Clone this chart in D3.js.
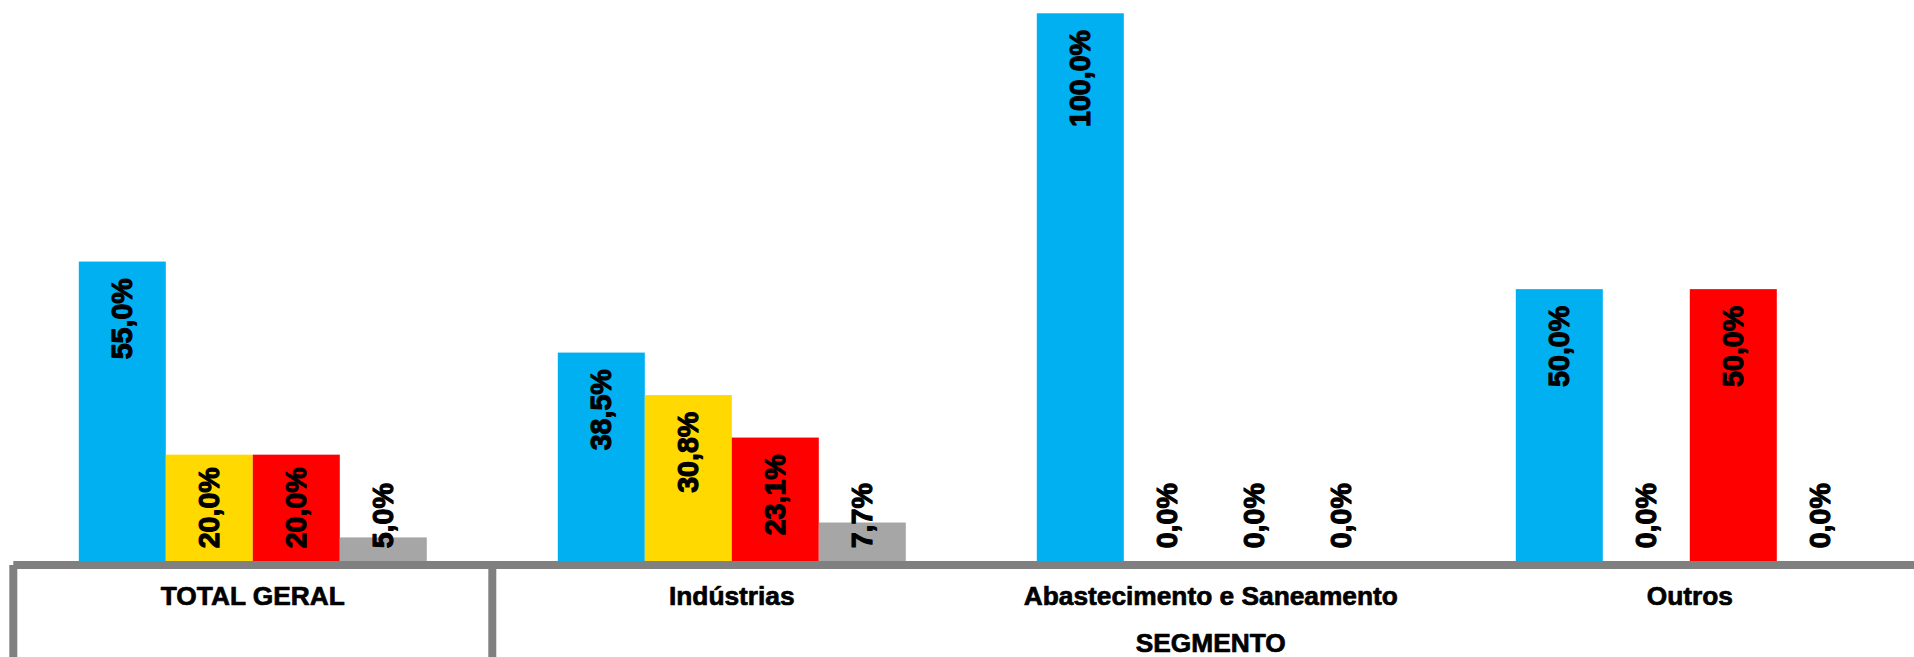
<!DOCTYPE html>
<html>
<head>
<meta charset="utf-8">
<script src="https://cdn.jsdelivr.net/npm/d3@7"></script>
<style>
  html, body { margin: 0; padding: 0; background: #ffffff; overflow: hidden; }
  svg { display: block; }
  text { font-family: "Liberation Sans", Arial, sans-serif; font-weight: bold; fill: #000; stroke: #000; stroke-linejoin: round; }
</style>
</head>
<body>
<svg id="chart" width="1914" height="657"></svg>
<script>
// ---- data ----
const categories = ["TOTAL GERAL", "Indústrias", "Abastecimento e Saneamento", "Outros"];
const seriesNames = ["Série 1", "Série 2", "Série 3", "Série 4"];
const series1 = [55.0, 38.5, 100.0, 50.0];
const series2 = [20.0, 30.8, 0.0, 0.0];
const series3 = [20.0, 23.1, 0.0, 50.0];
const series4 = [5.0, 7.7, 0.0, 0.0];
const seriesColors = ["#00B0F0", "#FFD900", "#FF0000", "#A6A6A6"];
const groupLabel = "SEGMENTO";
const groupCategories = ["Indústrias", "Abastecimento e Saneamento", "Outros"];

const allSeries = [series1, series2, series3, series4];
const fmt = v => d3.format(".1f")(v).replace(".", ",") + "%";

// ---- layout ----
const W = 1914, H = 657;
const left = 13.3, step = 479;
const svg = d3.select("#chart");

const x0 = d3.scaleBand().domain(categories).range([left, left + step * categories.length]).paddingInner(0).paddingOuter(0);
const x1 = d3.scaleBand().domain(d3.range(seriesNames.length)).range([0, x0.bandwidth()]).paddingInner(0).paddingOuter(0.753);
const y = d3.scaleLinear().domain([0, 100]).range([565, 13.3]);

const rows = [];
categories.forEach((c, ci) => {
  allSeries.forEach((s, si) => rows.push({ cat: c, si, v: s[ci] }));
});

// bars
svg.append("g").selectAll("rect").data(rows.filter(d => d.v > 0)).join("rect")
  .attr("x", d => x0(d.cat) + x1(d.si))
  .attr("y", d => y(d.v))
  .attr("width", x1.bandwidth())
  .attr("height", d => y(0) - y(d.v))
  .attr("fill", d => seriesColors[d.si]);

// axis lines
const axisColor = "#808080";
svg.append("rect").attr("x", left).attr("y", y(0) - 4).attr("width", W - left).attr("height", 8).attr("fill", axisColor);
svg.append("rect").attr("x", left - 4).attr("y", y(0)).attr("width", 8).attr("height", H - y(0)).attr("fill", axisColor);
svg.append("rect").attr("x", x0(categories[1]) - 4).attr("y", y(0) + 4).attr("width", 8).attr("height", H - y(0) - 4).attr("fill", axisColor);

// data labels
const labelSize = 28.6, pad = 16.7;
const lg = svg.append("g");
rows.forEach(d => {
  const cx = x0(d.cat) + x1(d.si) + x1.bandwidth() / 2;
  const t = lg.append("text")
    .attr("font-size", labelSize)
    .attr("stroke-width", 1.1)
    .attr("text-anchor", "start")
    .attr("dominant-baseline", "central")
    .text(fmt(d.v));
  const len = t.node().getComputedTextLength();
  let bottom = y(d.v) + pad + len;
  const maxBottom = y(0) - pad;
  if (bottom > maxBottom) bottom = maxBottom;
  t.attr("transform", `translate(${cx},${bottom}) rotate(-90)`);
});

// category labels
svg.append("g").selectAll("text").data(categories).join("text")
  .attr("x", d => x0(d) + x0.bandwidth() / 2)
  .attr("y", 605)
  .attr("text-anchor", "middle")
  .attr("font-size", 26.3)
  .attr("stroke-width", 0.7)
  .text(d => d);

// group label
const gx0 = x0(groupCategories[0]);
const gx1 = x0(groupCategories[groupCategories.length - 1]) + x0.bandwidth();
svg.append("text")
  .attr("x", (gx0 + gx1) / 2)
  .attr("y", 652.3)
  .attr("text-anchor", "middle")
  .attr("font-size", 26.3)
  .attr("stroke-width", 0.7)
  .text(groupLabel);
</script>
</body>
</html>
